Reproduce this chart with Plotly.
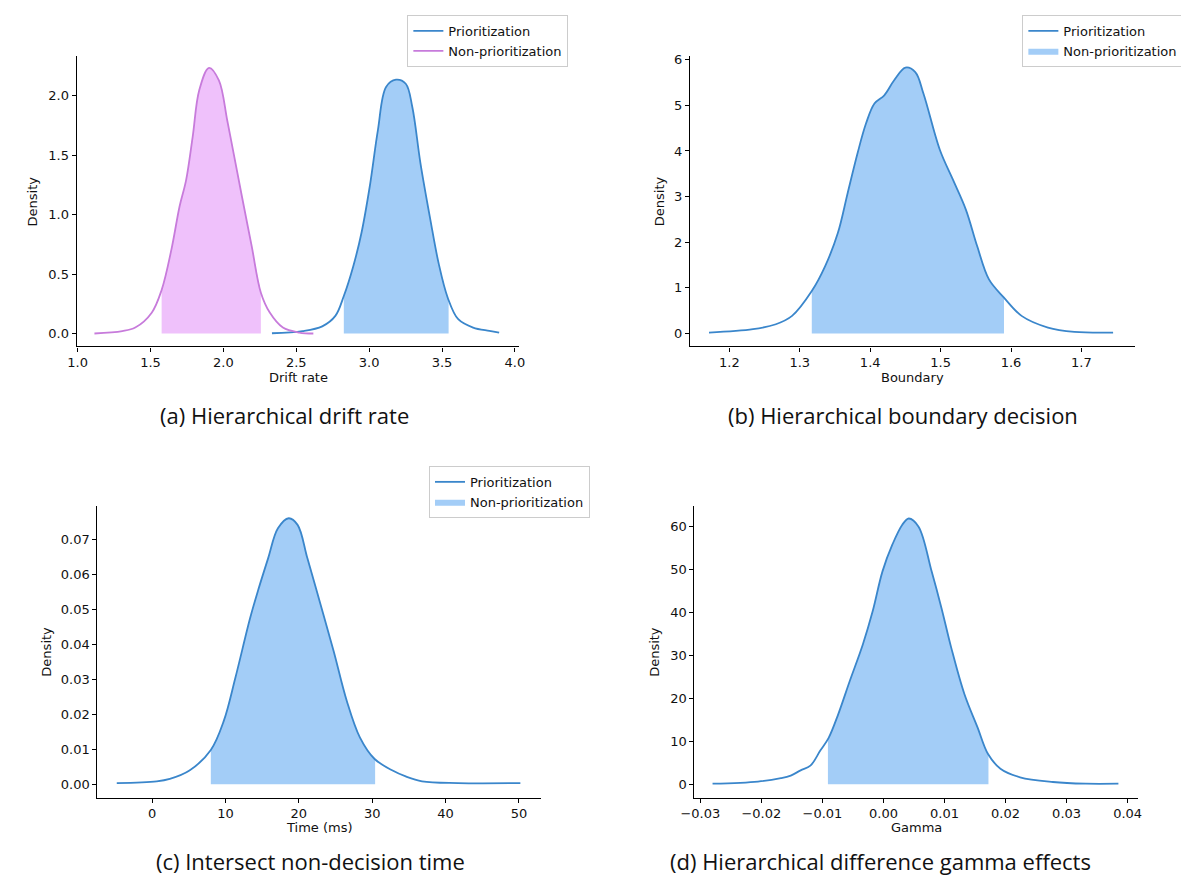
import numpy as np
import plotly.graph_objects as go

# ---------------- data ----------------
# (a) Hierarchical drift rate
drift_prio_x = [2.333, 2.543, 2.678, 2.768, 2.826, 2.891, 2.947, 3.004, 3.06, 3.116, 3.184,
                3.251, 3.296, 3.352, 3.42, 3.476, 3.539, 3.611, 3.713, 3.825, 3.892]
drift_prio_y = [0.002, 0.02, 0.06, 0.148, 0.315, 0.566, 0.845, 1.236, 1.71, 2.073, 2.134,
                2.1, 1.905, 1.431, 0.956, 0.594, 0.301, 0.12, 0.05, 0.022, 0.008]
drift_prio_hdi = [2.826, 3.545]
drift_non_x = [1.115, 1.306, 1.395, 1.508, 1.576, 1.643, 1.699, 1.744, 1.789, 1.834, 1.901,
               1.969, 2.026, 2.07, 2.127, 2.194, 2.257, 2.318, 2.408, 2.52, 2.617]
drift_non_y = [0.0, 0.02, 0.05, 0.175, 0.366, 0.705, 1.068, 1.29, 1.654, 2.045, 2.234,
               2.128, 1.793, 1.515, 1.152, 0.734, 0.343, 0.176, 0.05, 0.008, 0.0]
drift_non_hdi = [1.576, 2.257]

# (b) Hierarchical boundary decision
bound_x = [1.171, 1.2335, 1.266, 1.289, 1.317, 1.336, 1.354, 1.368, 1.382, 1.394, 1.406, 1.42,
           1.434, 1.45, 1.464, 1.4756, 1.499, 1.5175, 1.536, 1.552, 1.5687, 1.59, 1.615,
           1.6525, 1.69, 1.745]
bound_y = [0.02, 0.094, 0.203, 0.386, 0.93, 1.477, 2.2, 3.08, 3.95, 4.6, 5.04, 5.22,
           5.55, 5.826, 5.73, 5.26, 4.02, 3.37, 2.71, 1.91, 1.185, 0.786, 0.386,
           0.13, 0.036, 0.02]
bound_hdi = [1.317, 1.59]

# (c) Intersect non-decision time
time_x = [-4.82, 0.63, 2.41, 5.09, 8.0, 9.78, 11.35, 13.36, 14.47, 15.81, 17.15, 18.62, 19.83,
          21.17, 22.96, 24.75, 26.53, 28.32, 30.33, 32.78, 34.57, 36.8, 41.72, 50.2]
time_y = [0.0003, 0.0008, 0.0015, 0.0039, 0.0098, 0.0182, 0.0305, 0.0476, 0.0557, 0.0647,
          0.0733, 0.0762, 0.0743, 0.0647, 0.0515, 0.0381, 0.0239, 0.0134, 0.0072, 0.0039,
          0.0022, 0.0008, 0.0003, 0.0003]
time_hdi = [8.0, 30.4]

# (d) Hierarchical difference gamma effects
gamma_x = [-0.028, -0.02055, -0.0168, -0.01519, -0.01357, -0.01197, -0.01035, -0.009, -0.0074,
           -0.00552, -0.00338, -0.00177, -0.00016, 0.00145, 0.00306, 0.00414, 0.00575, 0.00789,
           0.0095, 0.01111, 0.01327, 0.01541, 0.01713, 0.01916, 0.02238, 0.02776, 0.03312, 0.03849]
gamma_y = [0.1, 0.6, 1.4, 2.0, 3.2, 4.3, 7.8, 10.7, 16.3, 24.0, 32.5, 40.2, 49.5, 55.7, 60.3,
           61.8, 59.9, 49.5, 41.0, 31.7, 20.9, 13.2, 7.0, 3.6, 1.6, 0.5, 0.1, 0.1]
gamma_hdi = [-0.0091, 0.0172]

# ---------------- styling ----------------
BLUE_LINE = "#3a86cb"
BLUE_FILL = "#a3cdf7"
PINK_LINE = "#c77bdb"
PINK_FILL = "#efc1fb"
OFF = 8                      # page body margin in the browser
W, H = 1189 - OFF, 880 - OFF
TICKFONT = dict(family="DejaVu Sans", size=13, color="#111111")


def fx_(px):
    return (px - OFF) / W


def fy_(py):
    return 1 - (py - OFF) / H


fig = go.Figure()


def hdi_fill(xs, ys, lo, hi):
    xs = np.asarray(xs, float)
    ys = np.asarray(ys, float)
    inner = (xs > lo) & (xs < hi)
    fx = np.concatenate([[lo], xs[inner], [hi]])
    fy = np.concatenate([[np.interp(lo, xs, ys)], ys[inner], [np.interp(hi, xs, ys)]])
    return fx, fy


def add_density(xs, ys, hdi, axis, line_color, fill_color, name_line, name_fill,
                legend, line_in_legend, fill_in_legend, rank):
    fx, fy = hdi_fill(xs, ys, hdi[0], hdi[1])
    fig.add_trace(go.Scatter(x=fx, y=fy, mode="lines", fill="tozeroy",
                             fillcolor=fill_color, line=dict(width=0, color=fill_color, shape="spline"),
                             name=name_fill, showlegend=fill_in_legend, legend=legend,
                             legendrank=rank + 1,
                             xaxis="x" + axis, yaxis="y" + axis, hoverinfo="skip"))
    fig.add_trace(go.Scatter(x=xs, y=ys, mode="lines",
                             line=dict(width=1.8, color=line_color, shape="spline", smoothing=1),
                             name=name_line, showlegend=line_in_legend, legend=legend,
                             legendrank=rank,
                             xaxis="x" + axis, yaxis="y" + axis))


# (a)
add_density(drift_prio_x, drift_prio_y, drift_prio_hdi, "", BLUE_LINE, BLUE_FILL,
            "Prioritization", "Prioritization fill", "legend", True, False, 1)
add_density(drift_non_x, drift_non_y, drift_non_hdi, "", PINK_LINE, PINK_FILL,
            "Non-prioritization", "Non-prioritization fill", "legend", True, False, 2)
# (b)
add_density(bound_x, bound_y, bound_hdi, "2", BLUE_LINE, BLUE_FILL,
            "Prioritization", "Non-prioritization", "legend2", True, True, 1)
# (c)
add_density(time_x, time_y, time_hdi, "3", BLUE_LINE, BLUE_FILL,
            "Prioritization", "Non-prioritization", "legend3", True, True, 1)
# (d)
add_density(gamma_x, gamma_y, gamma_hdi, "4", BLUE_LINE, BLUE_FILL,
            "Prioritization", "Non-prioritization", "legend3", False, False, 1)

# panel boxes in page pixels: (left, right, top, bottom)
boxes = {
    "": (63.6, 514.0, 52.0, 344.0),
    "2": (687.5, 1139.8, 52.7, 344.0),
    "3": (84.7, 536.0, 504.3, 797.3),
    "4": (692.0, 1143.6, 504.3, 797.3),
}
xranges = {"": [0.993, 4.031], "2": [1.144, 1.7756], "3": [-7.46, 53.02], "4": [-0.03097, 0.04176]}
yranges = {"": [-0.109, 2.335], "2": [-0.284, 6.07], "3": [-0.00388, 0.0797], "4": [-3.15, 64.7]}
xticks = {"": ([1.0, 1.5, 2.0, 2.5, 3.0, 3.5, 4.0], ".1f"),
          "2": ([1.2, 1.3, 1.4, 1.5, 1.6, 1.7], ".1f"),
          "3": ([0, 10, 20, 30, 40, 50], "d"),
          "4": ([-0.03, -0.02, -0.01, 0.0, 0.01, 0.02, 0.03, 0.04], ".2f")}
yticks = {"": ([0.0, 0.5, 1.0, 1.5, 2.0], ".1f"),
          "2": ([0, 1, 2, 3, 4, 5, 6], "d"),
          "3": ([0.0, 0.01, 0.02, 0.03, 0.04, 0.05, 0.06, 0.07], ".2f"),
          "4": ([0, 10, 20, 30, 40, 50, 60], "d")}

layout = {}
for ax, (l, r, t, b) in boxes.items():
    common = dict(showline=True, linecolor="black", linewidth=1.2, ticks="outside",
                  ticklen=4, tickwidth=1, tickcolor="black", showgrid=False,
                  zeroline=False, tickfont=TICKFONT, mirror=False, fixedrange=True)
    layout["xaxis" + ax] = dict(common, domain=[fx_(l), fx_(r)], range=xranges[ax],
                                anchor="y" + ax, tickmode="array", tickvals=xticks[ax][0],
                                tickformat=xticks[ax][1])
    layout["yaxis" + ax] = dict(common, domain=[fy_(b), fy_(t)], range=yranges[ax],
                                anchor="x" + ax, tickmode="array", tickvals=yticks[ax][0],
                                tickformat=yticks[ax][1])
fig.update_layout(**layout)

legend_style = dict(font=dict(family="DejaVu Sans", size=13, color="#111111"),
                    bgcolor="white", bordercolor="#cccccc", borderwidth=1,
                    xanchor="left", yanchor="top", tracegroupgap=0, itemwidth=30,
                    orientation="v", visible=True, traceorder="normal")
fig.update_layout(
    showlegend=True,
    legend=dict(legend_style, x=fx_(400), y=fy_(11)),
    legend2=dict(legend_style, x=fx_(1025.6), y=fy_(11)),
    legend3=dict(legend_style, x=fx_(422), y=fy_(464)),
)

annotations = []
# axis titles
axis_titles = [
    ("Drift rate", 288.8, 375, 0), ("Boundary", 913.6, 375, 0),
    ("Time (ms)", 310.4, 827, 0), ("Gamma", 917.8, 827, 0),
    ("Density", 18.5, 198, -90), ("Density", 656, 198, -90),
    ("Density", 32, 651, -90), ("Density", 650.7, 651, -90),
]
for text, px, py, ang in axis_titles:
    annotations.append(dict(text=text, x=fx_(px), y=fy_(py), xref="paper", yref="paper",
                            xanchor="center", yanchor="middle", showarrow=False, textangle=ang,
                            font=dict(family="DejaVu Sans", size=13, color="#111111")))
captions = [
    ("(a) Hierarchical drift rate", 275, 413),
    ("(b) Hierarchical boundary decision", 904, 413),
    ("(c) Intersect non-decision time", 301.5, 861),
    ("(d) Hierarchical difference gamma effects", 881.5, 861),
]
for text, px, py in captions:
    annotations.append(dict(text=text, x=fx_(px), y=fy_(py), xref="paper", yref="paper",
                            xanchor="center", yanchor="middle", showarrow=False,
                            font=dict(family="Open Sans", size=22, color="#111111")))

fig.update_layout(width=W, height=H, margin=dict(l=0, r=0, t=0, b=0),
                  paper_bgcolor="white", plot_bgcolor="white",
                  annotations=annotations, hovermode=False)

fig.write_html("out.html", config={"displayModeBar": False})
